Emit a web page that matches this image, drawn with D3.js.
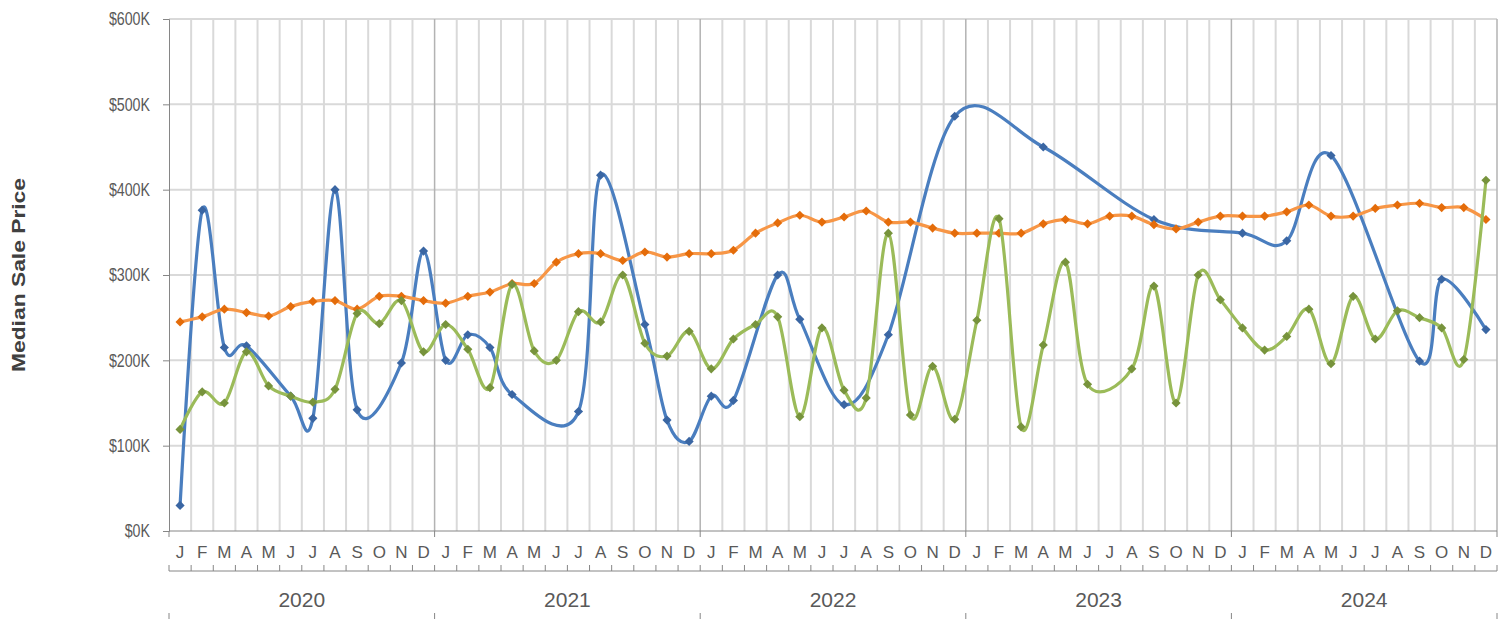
<html>
<head>
<script src="https://d3js.org/d3.v7.min.js"></script>
<style>
  body { margin: 0; background: #fff; }
  text { font-family: "Liberation Sans", Arial, sans-serif; fill: #595959; }
</style>
</head>
<body>
<svg id="chart" width="1512" height="619"></svg>
<script>
// ---- data (values in $K) ----
var monthLabels = ["J","F","M","A","M","J","J","A","S","O","N","D"];
var years = [2020, 2021, 2022, 2023, 2024];
var yTicks = [0, 100, 200, 300, 400, 500, 600];

var blueSeries = [
  30, 376, 215, 217, null, 158, 132, 400, 142, null, 197, 328,
  200, 230, 215, 160, null, null, 140, 417, null, 242, 130, 105,
  158, 153, null, 300, 248, null, 148, null, 230, null, null, 486,
  null, null, null, 450, null, null, null, null, 365, null, null, null,
  349, null, 340, null, 440, null, null, null, 199, 295, null, 236
];
var orangeSeries = [
  245, 251, 260, 256, 252, 263, 269, 270, 260, 275, 275, 270,
  267, 275, 280, 290, 290, 315, 325, 325, 317, 327, 321, 325,
  325, 329, 349, 361, 370, 362, 368, 375, 362, 362, 355, 349,
  349, 349, 349, 360, 365, 360, 369, 369, 359, 354, 362, 369,
  369, 369, 374, 382, 369, 369, 378, 382, 384, 379, 379, 365
];
var greenSeries = [
  119, 163, 150, 210, 170, 158, 151, 166, 255, 243, 270, 210,
  242, 213, 168, 289, 211, 200, 257, 245, 300, 220, 205, 234,
  190, 225, 242, 251, 134, 238, 165, 156, 349, 136, 193, 131,
  247, 366, 122, 218, 315, 172, null, 190, 287, 150, 300, 271,
  238, 212, 228, 260, 196, 275, 225, 258, 250, 238, 201, 411
];

var plotLeft = 169, plotRight = 1497, plotTop = 19, plotBottom = 531;
var nCat = years.length * monthLabels.length;

var svg = d3.select("#chart");

var x = d3.scaleLinear().domain([0, nCat]).range([plotLeft, plotRight]);
var y = d3.scaleLinear().domain([0, 600]).range([plotBottom, plotTop]);

// horizontal gridlines
svg.append("g").selectAll("line")
  .data(yTicks.slice(1))
  .enter().append("line")
  .attr("x1", plotLeft).attr("x2", plotRight)
  .attr("y1", function(d) { return y(d); })
  .attr("y2", function(d) { return y(d); })
  .attr("stroke", "#d9d9d9").attr("stroke-width", 2);

// vertical gridlines at category boundaries
svg.append("g").selectAll("line")
  .data(d3.range(1, nCat + 1))
  .enter().append("line")
  .attr("x1", function(d) { return x(d); })
  .attr("x2", function(d) { return x(d); })
  .attr("y1", plotTop).attr("y2", plotBottom)
  .attr("stroke", function(d) { return d % 12 == 0 ? "#b3b3b3" : "#d9d9d9"; })
  .attr("stroke-width", function(d) { return d % 12 == 0 ? 1.5 : 2; });

// y axis
var yAxis = svg.append("g")
  .attr("transform", "translate(" + plotLeft + ",0)")
  .call(d3.axisLeft(y).tickValues(yTicks).tickSize(6)
    .tickFormat(function(d) { return "$" + d + "K"; }));
yAxis.select(".domain").attr("stroke", "#868686");
yAxis.selectAll(".tick line").attr("stroke", "#868686");
// labels drawn a bit narrow, like the original
yAxis.selectAll("text")
  .attr("x", 0)
  .attr("transform", "translate(-19,0) scale(0.79,1)")
  .style("font-size", "18px").style("fill", "#595959")
  .style("font-family", "'Liberation Sans', Arial, sans-serif");

// x axis line
svg.append("line")
  .attr("x1", plotLeft).attr("x2", plotRight).attr("y1", plotBottom).attr("y2", plotBottom)
  .attr("stroke", "#868686").attr("stroke-width", 1);

// year ticks on x axis
svg.append("g").selectAll("line")
  .data(d3.range(0, nCat + 1, 12))
  .enter().append("line")
  .attr("x1", function(d) { return x(d); })
  .attr("x2", function(d) { return x(d); })
  .attr("y1", plotBottom).attr("y2", plotBottom + 6)
  .attr("stroke", "#868686");

// month labels
var cats = [];
years.forEach(function(yr) {
  monthLabels.forEach(function(m) { cats.push({ year: yr, m: m }); });
});
svg.append("g").selectAll("text")
  .data(cats)
  .enter().append("text")
  .attr("x", function(d, i) { return x(i + 0.5); })
  .attr("y", 558)
  .attr("text-anchor", "middle")
  .style("font-size", "17px")
  .text(function(d) { return d.m; });

// month separator line with ticks
svg.append("line")
  .attr("x1", plotLeft).attr("x2", plotRight).attr("y1", 571).attr("y2", 571)
  .attr("stroke", "#868686");
svg.append("g").selectAll("line")
  .data(d3.range(0, nCat + 1))
  .enter().append("line")
  .attr("x1", function(d) { return x(d); })
  .attr("x2", function(d) { return x(d); })
  .attr("y1", 565).attr("y2", 571)
  .attr("stroke", "#868686");

// year labels
svg.append("g").selectAll("text")
  .data(years)
  .enter().append("text")
  .attr("x", function(d, i) { return x(i * 12 + 6); })
  .attr("y", 607)
  .attr("text-anchor", "middle")
  .style("font-size", "21px")
  .text(function(d) { return d; });

svg.append("g").selectAll("line")
  .data(d3.range(0, nCat + 1, 12))
  .enter().append("line")
  .attr("x1", function(d) { return x(d); })
  .attr("x2", function(d) { return x(d); })
  .attr("y1", 613).attr("y2", 619)
  .attr("stroke", "#868686");

// y title
svg.append("text")
  .attr("transform", "translate(25," + ((plotTop + plotBottom) / 2) + ") rotate(-90)")
  .attr("text-anchor", "middle")
  .attr("textLength", 194)
  .attr("lengthAdjust", "spacingAndGlyphs")
  .style("font-size", "19px")
  .style("font-weight", "bold")
  .style("fill", "#404040")
  .text("Median Sale Price");

// series
var series = [
  { values: blueSeries, line: "#4a7ebf", marker: "#3a66a3" },
  { values: orangeSeries, line: "#f79646", marker: "#e46c0a" },
  { values: greenSeries, line: "#9bbb59", marker: "#77933c" }
];

var line = d3.line()
  .x(function(d) { return x(d.i + 0.5); })
  .y(function(d) { return y(d.v); })
  .curve(d3.curveCatmullRom.alpha(0));

// square turned 45 degrees, like the spreadsheet diamond marker
var diamond = d3.symbol().type(d3.symbolSquare).size(42);

series.forEach(function(s) {
  var pts = s.values.map(function(v, i) { return { i: i, v: v }; })
    .filter(function(d) { return d.v != null; });

  svg.append("path")
    .datum(pts)
    .attr("d", line)
    .attr("fill", "none")
    .attr("stroke", s.line)
    .attr("stroke-width", 3.2)
    .attr("stroke-linejoin", "round");

  svg.append("g").selectAll("path")
    .data(pts)
    .enter().append("path")
    .attr("d", diamond)
    .attr("transform", function(d) { return "translate(" + x(d.i + 0.5) + "," + y(d.v) + ") rotate(45)"; })
    .attr("fill", s.marker);
});
</script>
</body>
</html>
